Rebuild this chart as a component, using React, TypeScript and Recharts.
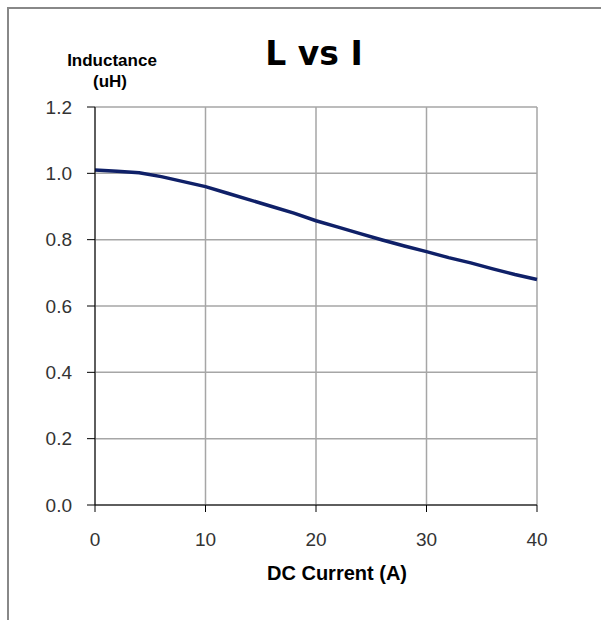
import React from "react";
import { CartesianGrid, Line, LineChart, XAxis, YAxis } from "recharts";

// DC current (A) and inductance (uH)
const current = [0, 2, 4, 6, 8, 10, 12, 14, 16, 18, 20, 22, 24, 26, 28, 30, 32, 34, 36, 38, 40];
const inductance = [
  1.01, 1.006, 1.002, 0.99, 0.975, 0.96, 0.94, 0.92, 0.9, 0.88, 0.857, 0.838, 0.818, 0.799,
  0.781, 0.764, 0.746, 0.73, 0.712, 0.695, 0.68,
];
const xTicks = [0, 10, 20, 30, 40];
const yTicks = [0, 0.2, 0.4, 0.6, 0.8, 1.0, 1.2];

const data = current.map((c, i) => ({ current: c, inductance: inductance[i] }));

const W = 601;
const H = 620;
const tickFont = { fontFamily: "Liberation Sans", fontSize: 19, fill: "#333" };

export default function App() {
  return (
    <div style={{ position: "absolute", left: 0, top: 0, width: W, height: H }}>
      <div
        style={{
          position: "absolute",
          left: 7,
          top: 7,
          width: W - 7,
          height: H - 7,
          borderTop: "2px solid #888",
          borderLeft: "2px solid #888",
          boxSizing: "border-box",
        }}
      />
      <LineChart
        width={W}
        height={H}
        data={data}
        margin={{ top: 107, right: 64, bottom: 75, left: 35 }}
        style={{ position: "absolute", left: 0, top: 0 }}
      >
        <CartesianGrid stroke="#a6a6a6" strokeWidth={1.5} />
        <XAxis
          dataKey="current"
          type="number"
          domain={[0, 40]}
          ticks={xTicks}
          height={40}
          stroke="#000"
          tickSize={7}
          tickMargin={21}
          tick={tickFont}
          interval={0}
        />
        <YAxis
          type="number"
          domain={[0, 1.2]}
          ticks={yTicks}
          width={60}
          stroke="#000"
          tickSize={8}
          tickMargin={15}
          tick={tickFont}
          interval={0}
          tickFormatter={(v: number) => v.toFixed(1)}
        />
        <Line
          dataKey="inductance"
          type="linear"
          stroke="#0f2068"
          strokeWidth={3.5}
          dot={false}
          isAnimationActive={false}
        />
        <text
          x={314}
          y={65}
          textAnchor="middle"
          style={{ fontFamily: "DejaVu Sans", fontWeight: 700, fontSize: 33, fill: "#000" }}
        >
          L vs I
        </text>
        <text
          x={112}
          y={66}
          textAnchor="middle"
          style={{ fontFamily: "Liberation Sans", fontWeight: 700, fontSize: 17, fill: "#000" }}
        >
          Inductance
        </text>
        <text
          x={110}
          y={87}
          textAnchor="middle"
          style={{ fontFamily: "Liberation Sans", fontWeight: 700, fontSize: 17, fill: "#000" }}
        >
          (uH)
        </text>
        <text
          x={337}
          y={580}
          textAnchor="middle"
          style={{ fontFamily: "Liberation Sans", fontWeight: 700, fontSize: 20, fill: "#000" }}
        >
          DC Current (A)
        </text>
      </LineChart>
    </div>
  );
}
